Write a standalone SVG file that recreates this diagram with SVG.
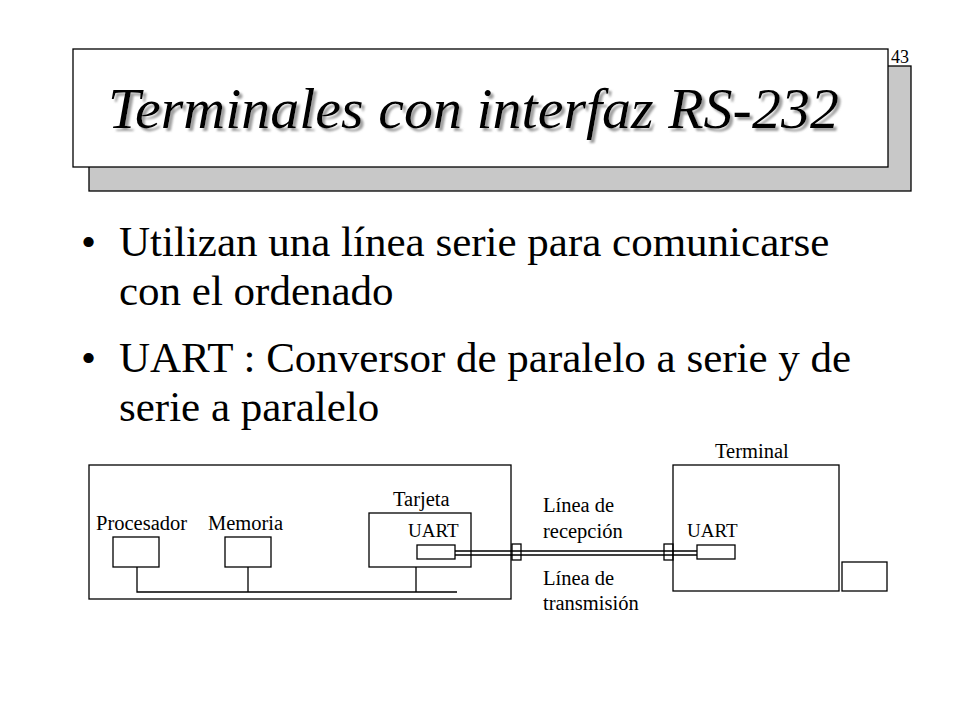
<svg xmlns="http://www.w3.org/2000/svg" width="960" height="720" viewBox="0 0 960 720">
<defs>
<style>
.ln{fill:none;stroke:#000;stroke-width:1.3}
.bx{fill:#fff;stroke:#000;stroke-width:1.3}
.t{font-family:"Liberation Serif","Times New Roman",serif;fill:#000}
.lb{font-size:20.5px}
.ua{font-size:19px}
.bl{font-size:43px}
</style>
<filter id="shadow" x="-5%" y="-20%" width="110%" height="150%"><feDropShadow dx="3" dy="3" stdDeviation="1.3" flood-color="#888" flood-opacity="0.8"/></filter>
</defs>
<rect width="960" height="720" fill="#fff"/>
<g id="title">
<rect x="89" y="66" width="822" height="125" fill="#c8c8c8" stroke="#000" stroke-width="1.3"/>
<rect x="73" y="49" width="815" height="118" class="bx"/>
<text x="108" y="128" class="t" font-size="58" font-style="italic" filter="url(#shadow)">Terminales con interfaz RS-232</text>
<text x="891" y="63" class="t" font-size="18">43</text>
</g>
<g id="bullets">
<text x="81" y="256" class="t bl">•</text>
<text x="119" y="256" class="t bl">Utilizan una línea serie para comunicarse</text>
<text x="119" y="305" class="t bl">con el ordenado</text>
<text x="81" y="372" class="t bl">•</text>
<text x="119" y="372" class="t bl">UART : Conversor de paralelo a serie y de</text>
<text x="119" y="421" class="t bl">serie a paralelo</text>
</g>
<g id="computer">
<rect x="89" y="465" width="422" height="134" class="bx"/>
</g>
<g id="procesador">
<rect x="113" y="537" width="46" height="30" class="bx"/>
<text x="96" y="530" class="t lb">Procesador</text>
</g>
<g id="memoria">
<rect x="225" y="537" width="46" height="30" class="bx"/>
<text x="208" y="530" class="t lb">Memoria</text>
</g>
<g id="tarjeta">
<rect x="369" y="513" width="102" height="54" class="bx"/>
<text x="393" y="506" class="t lb">Tarjeta</text>
<text x="408" y="537" class="t ua">UART</text>
<rect x="417" y="545" width="38" height="14" class="bx"/>
</g>
<g id="terminal">
<rect x="673" y="465" width="166" height="126" class="bx"/>
<text x="715" y="458" class="t lb">Terminal</text>
<text x="687" y="537" class="t ua">UART</text>
<rect x="697" y="545" width="38" height="14" class="bx"/>
</g>
<g id="teclado">
<rect x="842" y="562" width="45" height="29" class="bx"/>
</g>
<g id="connectors">
<path class="ln" d="M137 567V592H457M248 567V592M416 567V592"/>
<path class="ln" d="M455 551H697M455 555H697"/>
<rect x="512" y="544" width="9" height="16" class="ln"/>
<rect x="664" y="544" width="9" height="16" class="ln"/>
</g>
<g id="labels">
<text x="543" y="512" class="t lb">Línea de</text>
<text x="543" y="538" class="t lb">recepción</text>
<text x="543" y="585" class="t lb">Línea de</text>
<text x="543" y="610" class="t lb">transmisión</text>
</g>
</svg>
